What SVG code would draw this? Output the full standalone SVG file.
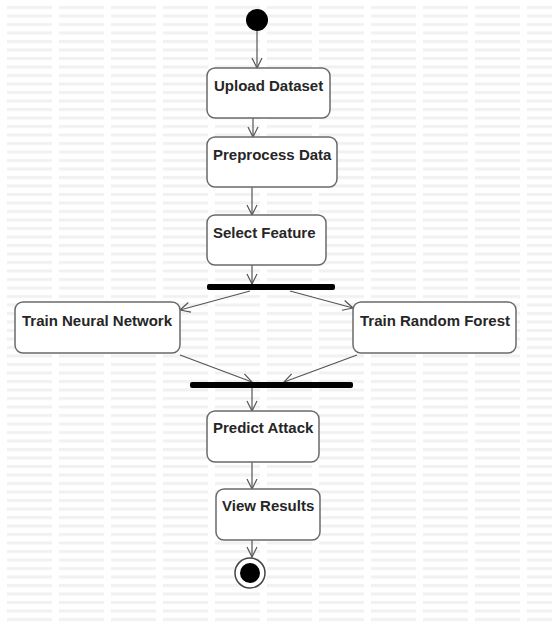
<svg xmlns="http://www.w3.org/2000/svg" width="554" height="630" viewBox="0 0 554 630">
  <style>
    .act rect { fill: #ffffff; stroke: #6a6a6a; stroke-width: 1.5; }
    .act text { font-family: "Liberation Sans", Arial, sans-serif; font-size: 15px; font-weight: bold; fill: #262626; }
    .bar { fill: #000000; }
    .flow line { stroke: #555555; stroke-width: 1.2; fill: none; marker-end: url(#open); }
  </style>
  <defs>
    <marker id="open" viewBox="0 0 12 12" refX="11" refY="6" markerWidth="12" markerHeight="12" markerUnits="userSpaceOnUse" orient="auto">
      <path d="M1,1 L11,6 L1,11" fill="none" stroke="#555555" stroke-width="1.2"/>
    </marker>
    <!-- faint tiled watermark behind the diagram -->
    <pattern id="wm" x="7" y="4" width="52" height="8.5" patternUnits="userSpaceOnUse">
      <rect x="0" y="2" width="45" height="3" fill="#f1f1f1"/>
    </pattern>
  </defs>

  <rect width="554" height="630" fill="#ffffff"/>
  <rect x="7" y="4" width="545" height="622" fill="url(#wm)"/>

  <g id="connectors" class="flow">
    <line x1="257" y1="31" x2="257" y2="68"/>
    <line x1="253" y1="118" x2="253" y2="137"/>
    <line x1="252" y1="187" x2="252" y2="215"/>
    <line x1="252" y1="265" x2="252" y2="284"/>
    <line x1="250" y1="291" x2="180" y2="310"/>
    <line x1="290" y1="291" x2="353" y2="308"/>
    <line x1="180" y1="355" x2="252" y2="382"/>
    <line x1="357" y1="355" x2="284" y2="382"/>
    <line x1="252" y1="388" x2="252" y2="411"/>
    <line x1="252" y1="462" x2="252" y2="489"/>
    <line x1="252" y1="540" x2="252" y2="557"/>
  </g>

  <g id="start">
    <circle cx="257" cy="20" r="11" fill="#000000"/>
  </g>

  <g id="upload" class="act">
    <rect x="207" y="68" width="123" height="50" rx="8"/>
    <text x="214" y="91">Upload Dataset</text>
  </g>

  <g id="preprocess" class="act">
    <rect x="207" y="137" width="130" height="50" rx="8"/>
    <text x="213" y="160">Preprocess Data</text>
  </g>

  <g id="select" class="act">
    <rect x="207" y="215" width="119" height="50" rx="8"/>
    <text x="213" y="238">Select Feature</text>
  </g>

  <g id="fork">
    <rect class="bar" x="207" y="284" width="128" height="6" rx="2"/>
  </g>

  <g id="train-nn" class="act">
    <rect x="15" y="302" width="165" height="51" rx="8"/>
    <text x="22" y="326">Train Neural Network</text>
  </g>

  <g id="train-rf" class="act">
    <rect x="353" y="302" width="163" height="51" rx="8"/>
    <text x="360" y="326">Train Random Forest</text>
  </g>

  <g id="join">
    <rect class="bar" x="190" y="382" width="163" height="6" rx="2"/>
  </g>

  <g id="predict" class="act">
    <rect x="207" y="411" width="112" height="51" rx="8"/>
    <text x="213" y="433">Predict Attack</text>
  </g>

  <g id="view" class="act">
    <rect x="216" y="489" width="104" height="51" rx="8"/>
    <text x="222" y="511">View Results</text>
  </g>

  <g id="end">
    <circle cx="250" cy="573" r="15" fill="#ffffff" stroke="#444444" stroke-width="1.5"/>
    <circle cx="250" cy="573" r="10" fill="#000000"/>
  </g>
</svg>
